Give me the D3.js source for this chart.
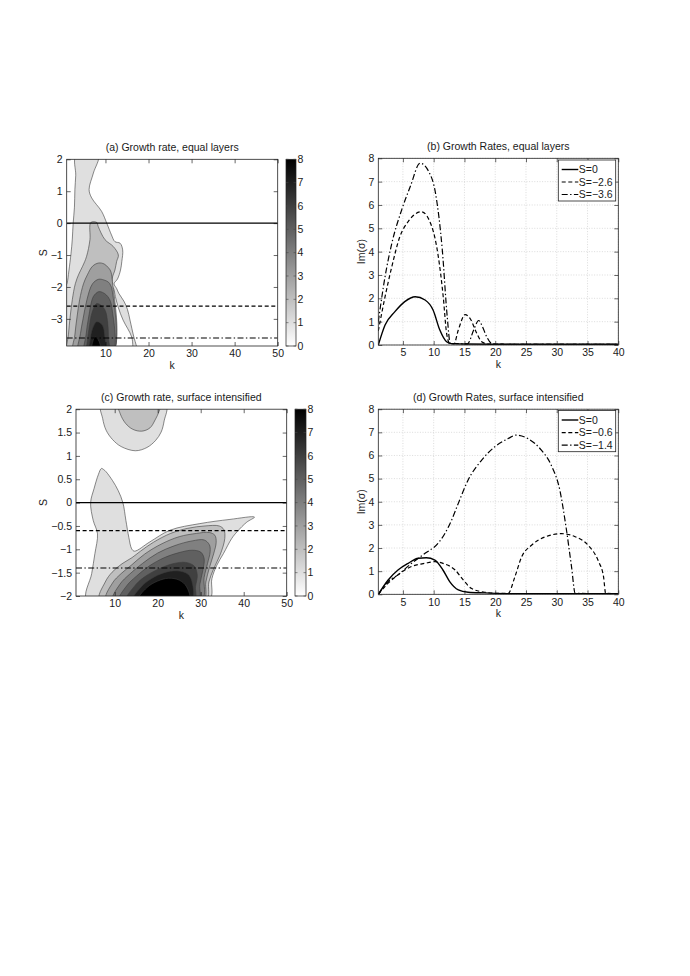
<!DOCTYPE html>
<html>
<head>
<meta charset="utf-8">
<script src="https://cdn.jsdelivr.net/npm/d3@7"></script>
<style>
body{margin:0;background:#fff;}
text{font-family:"Liberation Sans",Arial,Helvetica,sans-serif;font-size:10.5px;fill:#1a1a1a;}
</style>
</head>
<body>
<svg id="fig" width="690" height="976"></svg>
<script>
// ---- tick values / labels
const kTicksAC = [10,20,30,40,50];
const sTicksA = [2,1,0,-1,-2,-3];
const sTicksC = [2,1.5,1,0.5,0,-0.5,-1,-1.5,-2];
const kTicksBD = [5,10,15,20,25,30,35,40];
const rateTicks = [0,1,2,3,4,5,6,7,8];
const contourLevels = [1,2,3,4,5,6,7,8];

const titles = ["(a) Growth rate, equal layers","(b) Growth Rates, equal layers",
  "(c) Growth rate, surface intensified","(d) Growth Rates, surface intensified"];

// S values of the cuts shown in (b) and (d)
const sLinesA = [0,-2.6,-3.6];
const sLinesC = [0,-0.6,-1.4];
const legendB = ["S=0","S=\u22122.6","S=\u22123.6"];
const legendD = ["S=0","S=\u22120.6","S=\u22121.4"];

// ---- filled contour regions, [k, S] outlines per level
const contourA = [
  [[[3.16,2.1],[3.1,1.5],[2.9,1.05],[2.8,0.5],[2.5,0],[2.3,-0.5],[2.0,-0.95],[1.5,-1.5],[1.07,-1.89],[0.5,-2.05],[0.5,-4.1],[11.55,-4.1],[11.55,-2.0],[11.9,-2.05],[12.3,-2.3],[13.0,-2.65],[14.1,-3.04],[16.1,-3.57],[16.7,-4.1],[17.6,-4.1],[17.2,-3.85],[16.6,-3.57],[15.7,-3.04],[15.1,-2.7],[14.3,-2.45],[13.1,-2.2],[12.6,-2.05],[12.0,-1.9],[12.8,-1.75],[13.5,-1.47],[13.8,-1.2],[14.0,-0.84],[13.4,-0.63],[12.2,-0.58],[11.4,-0.37],[10.3,0],[9.1,0.37],[6.8,0.79],[6.2,1.05],[7.2,1.57],[8.3,2.1]]],
  [[[6.6,0.02],[6.4,-0.52],[5.6,-1.05],[4.7,-1.35],[3.8,-1.6],[3.0,-1.9],[2.3,-2.4],[1.8,-2.94],[1.4,-3.5],[1.2,-4.1],[11.55,-4.1],[11.55,-1.75],[12.2,-1.47],[12.6,-1.2],[13.0,-1.0],[11.8,-0.73],[9.9,-0.52],[8.3,-0.1],[8.0,0.02]]],
  [[[8.4,-1.25],[7.0,-1.35],[5.8,-1.62],[4.9,-1.9],[4.0,-2.4],[3.4,-2.94],[2.9,-3.5],[2.6,-4.1],[11.55,-4.1],[11.55,-1.75],[11.2,-1.5],[10.7,-1.4],[9.7,-1.28]]],
  [[[8.4,-1.76],[7.0,-1.9],[5.7,-2.4],[4.8,-3.0],[4.2,-3.46],[3.8,-4.1],[11.55,-4.1],[11.55,-2.1],[11.2,-1.95],[10.7,-1.85],[9.6,-1.78]]],
  [[[8.4,-2.15],[7.2,-2.3],[6.1,-2.94],[5.5,-3.5],[5.2,-4.1],[11.55,-4.1],[11.55,-2.7],[11.0,-2.4],[10.2,-2.25],[9.3,-2.17]]],
  [[[8.0,-2.52],[6.9,-2.8],[6.2,-3.3],[5.8,-3.7],[5.7,-4.1],[10.8,-4.1],[10.7,-3.6],[10.5,-3.1],[9.8,-2.7]]],
  [[[8.0,-3.09],[7.0,-3.3],[6.4,-3.7],[6.2,-4.1],[10.0,-4.1],[9.9,-3.6],[9.3,-3.2]]],
  [[[7.6,-3.57],[6.9,-3.8],[6.8,-4.1],[8.8,-4.1],[8.5,-3.7]]]
];

const contourC = [
  [[[6.9,2.1],[7.2,1.8],[8.0,1.55],[9.5,1.35],[11.5,1.2],[14.8,1.11],[17.5,1.18],[19.5,1.33],[20.8,1.51],[21.5,1.75],[21.9,2.1]],
   [[3.6,-2.1],[4.65,-1.52],[5.4,-1.09],[6.0,-0.67],[5.0,-0.38],[4.4,0],[5.2,0.3],[6.2,0.6],[6.9,0.73],[7.4,0.71],[8.0,0.66],[9.5,0.47],[10.8,0.26],[11.9,0],[12.6,-0.38],[13.3,-0.75],[13.95,-0.99],[14.6,-1.04],[18.2,-0.84],[22.9,-0.59],[29.8,-0.45],[36.8,-0.36],[42.5,-0.31],[40.7,-0.42],[38.5,-0.62],[37.2,-0.77],[35.3,-1.09],[33.7,-1.35],[32.6,-1.63],[31.9,-2.1]]],
  [[[10.9,2.1],[11.3,1.9],[12.5,1.7],[14.2,1.57],[16.3,1.53],[18.2,1.6],[19.4,1.77],[20.3,1.95],[20.6,2.1]],
   [[6.5,-2.1],[7.8,-1.7],[9.4,-1.49],[11.7,-1.31],[14,-1.18],[16,-1.04],[19,-0.85],[23,-0.66],[27,-0.55],[31,-0.5],[34.3,-0.5],[35.4,-0.58],[35.6,-0.77],[34.6,-1.1],[33.0,-1.42],[31.9,-1.7],[31.2,-2.1]]],
  [[[8.0,-2.1],[9.5,-1.72],[11.5,-1.52],[14,-1.33],[17,-1.1],[21,-0.88],[25,-0.73],[29,-0.66],[32,-0.64],[33.3,-0.7],[33.6,-0.85],[33,-1.1],[32,-1.4],[31.2,-1.7],[30.6,-2.1]]],
  [[[9.6,-2.1],[11.2,-1.75],[13.5,-1.53],[16.5,-1.3],[20,-1.08],[24,-0.92],[28,-0.82],[30.8,-0.8],[32,-0.9],[32.2,-1.05],[31.6,-1.3],[30.8,-1.6],[30.2,-2.1]]],
  [[[11.1,-2.1],[12.8,-1.78],[15,-1.58],[18,-1.36],[21.5,-1.18],[25,-1.07],[28,-1.02],[30,-1.06],[30.8,-1.2],[30.5,-1.45],[29.8,-1.75],[29.4,-2.1]]],
  [[[12.7,-2.1],[14.5,-1.8],[16.8,-1.6],[20,-1.43],[23.5,-1.31],[26.5,-1.28],[28.5,-1.36],[29.2,-1.55],[28.8,-1.8],[28.5,-2.1]]],
  [[[14.2,-2.1],[16.2,-1.8],[18.5,-1.63],[21.5,-1.5],[24.5,-1.46],[27,-1.53],[28,-1.7],[27.8,-2.1]]],
  [[[15.4,-2.1],[17.5,-1.82],[20,-1.68],[22.5,-1.62],[25,-1.66],[26.7,-1.8],[27.3,-2.1]]]
];

// ---- growth rate cuts, [k, Im(sigma)]
const rateB_S0 = [[1,0],[2.1,0.86],[3.7,1.43],[5.3,1.86],[7,2.07],[8.6,1.93],[9.9,1.5],[11,0.64],[12.1,0.14],[12.9,0.06],[15,0.04],[20,0.03],[40,0.03]];
const rateB_S26 = [[1,0.6],[2.1,2.07],[3.2,3.36],[4.5,4.64],[5.85,5.29],[8,5.71],[9.7,5.07],[10.75,3.79],[11.55,2.07],[12.1,0.5],[12.6,0.07],[13.3,0.05],[14,0.64],[15.1,1.3],[15.9,1.14],[17,0.5],[17.8,0.14],[18.9,0.04],[25,0.03],[40,0.03]];
const rateB_S36 = [[1,1.0],[2.1,2.93],[3.2,4.36],[4.8,5.79],[6.2,6.79],[7.8,7.79],[9.2,7.43],[10.3,6.5],[11.4,4.07],[12.2,1.21],[12.7,0.07],[15.5,0.05],[16.5,0.64],[17.3,1.05],[17.9,0.8],[18.6,0.36],[19.4,0.07],[20.5,0.03],[40,0.03]];
const rateD_S0 = [[1,0],[2.6,0.62],[4.2,1.05],[5.85,1.34],[7.5,1.56],[8.8,1.58],[10.2,1.48],[11.5,1.05],[12.6,0.55],[14,0.19],[15.6,0.09],[18.3,0.06],[22,0.03],[40,0.03]];
const rateD_S06 = [[1,0],[2.6,0.48],[4.2,0.84],[6.4,1.2],[8.6,1.34],[10.2,1.41],[11.8,1.31],[13.5,1.05],[14.8,0.62],[16.1,0.26],[18.3,0.09],[20.5,0.04],[22.1,0.04],[23.2,0.76],[24.3,1.62],[25.9,2.12],[28.1,2.48],[30.8,2.62],[32.9,2.5],[35.1,2.12],[36.8,1.41],[37.6,0.76],[37.95,0.04],[40,0.03]];
const rateD_S14 = [[1,0],[2.6,0.55],[4.2,0.84],[6.4,1.34],[8.6,1.77],[10.7,2.2],[11.8,2.62],[12.9,3.2],[14,3.93],[15.6,4.94],[17.8,5.8],[19.9,6.37],[22.1,6.73],[23.4,6.88],[25.3,6.73],[27.5,6.23],[29.1,5.58],[30.5,4.5],[31.5,2.92],[32.4,1.19],[33,0.04],[40,0.03]];

// ---- layout
const svg = d3.select("#fig");
const dashes = [null, "4,2.6", "6,2.4,1.4,2.4"];
const grey = d3.scaleLinear().domain([0,8]).range(["#ffffff","#000000"]);

const boxA = {l:66.7, r:277.7, t:159.3, b:346};
const boxB = {l:378.3, r:618.3, t:158.3, b:345};
const boxC = {l:76, r:286.7, t:409.2, b:596};
const boxD = {l:378.3, r:618.3, t:409.2, b:594.3};

const xA = d3.scaleLinear().domain([1,50]).range([boxA.l, boxA.r]);
const yA = d3.scaleLinear().domain([-3.85,2]).range([boxA.b, boxA.t]);
const xB = d3.scaleLinear().domain([1,40]).range([boxB.l, boxB.r]);
const yB = d3.scaleLinear().domain([0,8]).range([boxB.b, boxB.t]);
const xC = d3.scaleLinear().domain([1,50]).range([boxC.l, boxC.r]);
const yC = d3.scaleLinear().domain([-2,2]).range([boxC.b, boxC.t]);
const xD = d3.scaleLinear().domain([1,40]).range([boxD.l, boxD.r]);
const yD = d3.scaleLinear().domain([0,8]).range([boxD.b, boxD.t]);

const defs = svg.append("defs");
function clip(id, box){
  defs.append("clipPath").attr("id", id).append("rect")
    .attr("x", box.l).attr("y", box.t).attr("width", box.r-box.l).attr("height", box.b-box.t);
}
clip("cA", boxA); clip("cB", boxB); clip("cC", boxC); clip("cD", boxD);

const grad = defs.append("linearGradient").attr("id","cbar").attr("x1",0).attr("y1",1).attr("x2",0).attr("y2",0);
grad.append("stop").attr("offset","0%").attr("stop-color","#ffffff");
grad.append("stop").attr("offset","100%").attr("stop-color","#000000");

function grid(box, x, y, xt, yt){
  const g = svg.append("g").attr("stroke","#c4c4c4").attr("stroke-width",0.6).attr("stroke-dasharray","1,1.6");
  g.selectAll(".gx").data(xt).join("line").attr("x1",d=>x(d)).attr("x2",d=>x(d)).attr("y1",box.t).attr("y2",box.b);
  g.selectAll(".gy").data(yt).join("line").attr("y1",d=>y(d)).attr("y2",d=>y(d)).attr("x1",box.l).attr("x2",box.r);
}

function axes(box, x, y, xt, yt){
  const fmt = d3.format("");
  const style = g => { g.select(".domain").remove(); g.selectAll("line").attr("stroke-width",0.6); };
  svg.append("g").attr("transform",`translate(0,${box.b})`)
    .call(d3.axisBottom(x).tickValues(xt).tickSizeInner(-4).tickSizeOuter(0).tickPadding(4).tickFormat(fmt)).call(style);
  svg.append("g").attr("transform",`translate(0,${box.t})`)
    .call(d3.axisTop(x).tickValues(xt).tickSizeInner(-4).tickSizeOuter(0).tickFormat("")).call(style);
  svg.append("g").attr("transform",`translate(${box.l},0)`)
    .call(d3.axisLeft(y).tickValues(yt).tickSizeInner(-4).tickSizeOuter(0).tickPadding(4).tickFormat(fmt)).call(style);
  svg.append("g").attr("transform",`translate(${box.r},0)`)
    .call(d3.axisRight(y).tickValues(yt).tickSizeInner(-4).tickSizeOuter(0).tickFormat("")).call(style);
  svg.append("rect").attr("x",box.l).attr("y",box.t).attr("width",box.r-box.l).attr("height",box.b-box.t)
    .attr("fill","none").attr("stroke","#222").attr("stroke-width",0.8);
}

function labels(box, title, xl, yl, ylx){
  const cx = (box.l+box.r)/2;
  svg.append("text").attr("x",cx).attr("y",box.t-8).attr("text-anchor","middle").text(title);
  svg.append("text").attr("x",cx).attr("y",box.b+23).attr("text-anchor","middle").text(xl);
  svg.append("text").attr("transform",`translate(${ylx},${(box.t+box.b)/2}) rotate(-90)`)
    .attr("text-anchor","middle").attr("dy","0.35em").text(yl);
}

function contours(box, x, y, levels, clipId){
  const line = d3.line().x(d=>x(d[0])).y(d=>y(d[1])).curve(d3.curveCatmullRomClosed.alpha(0.5));
  const g = svg.append("g").attr("clip-path",`url(#${clipId})`);
  levels.forEach((polys,i) => {
    g.selectAll(null).data(polys).join("path")
      .attr("d", line)
      .attr("fill", grey(contourLevels[i]))
      .attr("stroke","#3c3c3c").attr("stroke-width",0.6);
  });
  return g;
}

function hlines(g, x, y, vals){
  g.selectAll(null).data(vals).join("line")
    .attr("x1",x.range()[0]).attr("x2",x.range()[1])
    .attr("y1",d=>y(d)).attr("y2",d=>y(d))
    .attr("stroke","#000").attr("stroke-width",(d,i)=>i===0?1.3:1.1)
    .attr("stroke-dasharray",(d,i)=>dashes[i]);
}

function colorbar(x0, w, top, bottom){
  const cy = d3.scaleLinear().domain([0,8]).range([bottom, top]);
  svg.append("rect").attr("x",x0).attr("y",top).attr("width",w).attr("height",bottom-top)
    .attr("fill","url(#cbar)").attr("stroke","#222").attr("stroke-width",0.7);
  const g = svg.append("g");
  g.selectAll(null).data(rateTicks).join("line")
    .attr("x1",x0).attr("x2",x0+2.5).attr("y1",d=>cy(d)).attr("y2",d=>cy(d)).attr("stroke","#444").attr("stroke-width",0.6);
  g.selectAll(null).data(rateTicks).join("line")
    .attr("x1",x0+w-2.5).attr("x2",x0+w).attr("y1",d=>cy(d)).attr("y2",d=>cy(d)).attr("stroke","#444").attr("stroke-width",0.6);
  g.selectAll(null).data(rateTicks).join("text")
    .attr("x",x0+w+1.5).attr("y",d=>cy(d)).attr("dy","0.35em").text(d=>d);
}

function curves(x, y, series, clipId){
  const line = d3.line().x(d=>x(d[0])).y(d=>y(d[1])).curve(d3.curveMonotoneX);
  svg.append("g").attr("clip-path",`url(#${clipId})`)
    .selectAll(null).data(series).join("path")
    .attr("d", line).attr("fill","none").attr("stroke","#000")
    .attr("stroke-width",(d,i)=>i===0?1.4:1.2)
    .attr("stroke-dasharray",(d,i)=>dashes[i]);
}

function legend(x0, y0, w, h, names){
  svg.append("rect").attr("x",x0).attr("y",y0).attr("width",w).attr("height",h)
    .attr("fill","#fff").attr("stroke","#222").attr("stroke-width",0.8);
  const rows = d3.scaleLinear().domain([0,2]).range([y0+9.5, y0+h-6.5]);
  names.forEach((n,i) => {
    svg.append("line").attr("x1",x0+3.4).attr("x2",x0+20).attr("y1",rows(i)).attr("y2",rows(i))
      .attr("stroke","#000").attr("stroke-width",i===0?1.4:1.2).attr("stroke-dasharray",dashes[i]);
    svg.append("text").attr("x",x0+20.5).attr("y",rows(i)).attr("dy","0.35em").text(n);
  });
}

// (a)
const gA = contours(boxA, xA, yA, contourA, "cA");
hlines(gA, xA, yA, sLinesA);
axes(boxA, xA, yA, kTicksAC, sTicksA);
labels(boxA, titles[0], "k", "S", 43.5);
colorbar(286, 10, boxA.t, boxA.b);

// (b)
grid(boxB, xB, yB, kTicksBD, rateTicks);
curves(xB, yB, [rateB_S0, rateB_S26, rateB_S36], "cB");
axes(boxB, xB, yB, kTicksBD, rateTicks);
labels(boxB, titles[1], "k", "Im(\u03c3)", 361.7);
legend(558.3, 160, 57.4, 41, legendB);

// (c)
const gC = contours(boxC, xC, yC, contourC, "cC");
hlines(gC, xC, yC, sLinesC);
axes(boxC, xC, yC, kTicksAC, sTicksC);
labels(boxC, titles[2], "k", "S", 43.5);
colorbar(295, 11, boxC.t, boxC.b);

// (d)
grid(boxD, xD, yD, kTicksBD, rateTicks);
curves(xD, yD, [rateD_S0, rateD_S06, rateD_S14], "cD");
axes(boxD, xD, yD, kTicksBD, rateTicks);
labels(boxD, titles[3], "k", "Im(\u03c3)", 361.7);
legend(558.3, 410.5, 57.4, 41.2, legendD);
</script>
</body>
</html>
